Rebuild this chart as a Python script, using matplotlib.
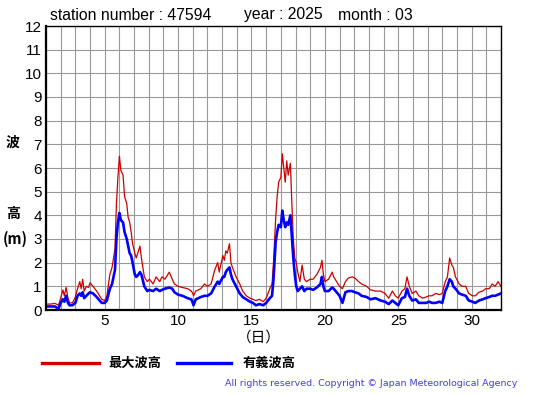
import matplotlib
matplotlib.use("Agg")
import matplotlib.pyplot as plt
from matplotlib.lines import Line2D

plt.rcParams['font.family'] = ['Liberation Sans', 'Noto Sans CJK JP', 'DejaVu Sans']

# day of month (fractional) and wave heights in metres
days = [1.0, 1.3, 1.6, 1.85, 2.0, 2.15, 2.25, 2.37, 2.5, 2.6, 2.8,
        3.0, 3.15, 3.3, 3.4, 3.5, 3.6, 3.75, 3.9, 4.0, 4.2, 4.45, 4.65, 4.8,
        5.0, 5.15, 5.35, 5.5, 5.6, 5.7, 5.8, 5.9, 6.0, 6.1, 6.25, 6.35, 6.5,
        6.6, 6.7, 6.8, 6.9, 7.05, 7.15, 7.3, 7.4, 7.5, 7.7, 7.9, 8.05, 8.3,
        8.5, 8.75, 8.9, 9.1, 9.4, 9.6, 9.75, 10.0, 10.3, 10.65, 10.9, 11.0,
        11.05, 11.2, 11.55, 11.8, 12.0, 12.25, 12.5, 12.7, 12.8, 13.05, 13.15,
        13.25, 13.35, 13.5, 13.6, 13.7, 13.95, 14.2, 14.4, 14.65, 14.9, 15.1,
        15.3, 15.55, 15.8, 16.0, 16.25, 16.4, 16.5, 16.65, 16.75, 16.85, 17.0,
        17.1, 17.2, 17.3, 17.4, 17.5, 17.65, 17.75, 17.85, 17.95, 18.05, 18.15,
        18.3, 18.45, 18.6, 18.75, 19.0, 19.2, 19.45, 19.7, 19.8, 19.9, 20.0,
        20.25, 20.5, 20.6, 20.8, 21.0, 21.2, 21.4, 21.6, 21.85, 22.05, 22.3,
        22.5, 22.85, 23.1, 23.45, 23.8, 24.1, 24.35, 24.6, 24.8, 25.0, 25.25,
        25.45, 25.6, 25.75, 25.95, 26.2, 26.4, 26.65, 26.9, 27.1, 27.3, 27.55,
        27.8, 28.0, 28.2, 28.35, 28.5, 28.65, 28.75, 28.9, 29.15, 29.35, 29.6,
        29.8, 30.05, 30.25, 30.5, 30.75, 30.95, 31.2, 31.4, 31.6, 31.8, 32.0]

max_wave = [0.25, 0.25, 0.28, 0.2, 0.5, 0.85, 0.6, 0.95, 0.5, 0.3, 0.3,
            0.55, 0.9, 1.2, 0.9, 1.3, 0.8, 1.0, 0.95, 1.15, 1.0, 0.8, 0.6, 0.45,
            0.4, 0.6, 1.5, 1.8, 2.2, 2.6, 4.5, 5.6, 6.5, 5.9, 5.7, 4.8, 4.5,
            3.9, 3.7, 3.3, 2.8, 2.4, 2.2, 2.5, 2.7, 2.2, 1.4, 1.2, 1.3, 1.1,
            1.4, 1.2, 1.4, 1.3, 1.6, 1.3, 1.1, 1.0, 0.95, 0.9, 0.8, 0.7,
            0.6, 0.8, 0.9, 1.1, 1.0, 1.1, 1.7, 2.0, 1.6, 2.3, 2.1,
            2.5, 2.4, 2.8, 2.0, 1.8, 1.4, 1.1, 0.8, 0.6, 0.5, 0.45,
            0.4, 0.45, 0.35, 0.5, 0.9, 1.1, 2.0, 3.9, 4.8, 5.4, 5.6,
            6.6, 6.0, 5.4, 6.3, 5.7, 6.2, 4.5, 3.0, 2.2, 2.0, 1.6,
            1.2, 1.9, 1.3, 1.2, 1.3, 1.3, 1.5, 1.8, 2.1, 1.5, 1.2,
            1.3, 1.6, 1.4, 1.2, 1.0, 0.9, 1.2, 1.35, 1.4, 1.35, 1.2,
            1.1, 1.0, 0.85, 0.8, 0.8, 0.7, 0.5, 0.8, 0.6, 0.5, 0.8,
            0.9, 1.4, 1.0, 0.7, 0.8, 0.6, 0.5, 0.55, 0.6, 0.6, 0.7,
            0.65, 0.7, 1.2, 1.4, 2.2, 1.9, 1.8, 1.4, 1.1, 1.0, 1.0,
            0.7, 0.6, 0.6, 0.75, 0.8, 0.9, 0.9, 1.1, 1.0, 1.2, 1.0]

sig_wave = [0.15, 0.15, 0.15, 0.05, 0.3, 0.45, 0.35, 0.6, 0.3, 0.2, 0.2,
            0.3, 0.6, 0.7, 0.6, 0.75, 0.5, 0.6, 0.7, 0.75, 0.7, 0.55, 0.4, 0.3,
            0.3, 0.4, 0.9, 1.1, 1.4, 1.7, 3.0, 3.7, 4.1, 3.8, 3.7, 3.3, 3.0,
            2.7, 2.4, 2.3, 2.0, 1.5, 1.4, 1.5, 1.6, 1.5, 1.0, 0.8, 0.85, 0.8,
            0.9, 0.8, 0.85, 0.9, 0.95, 0.9, 0.75, 0.65, 0.6, 0.5, 0.45, 0.3,
            0.2, 0.45, 0.55, 0.6, 0.6, 0.7, 1.0, 1.2, 1.1, 1.4, 1.4,
            1.6, 1.7, 1.8, 1.5, 1.3, 1.0, 0.7, 0.55, 0.45, 0.35, 0.3,
            0.2, 0.25, 0.2, 0.3, 0.5, 0.6, 1.3, 2.9, 3.3, 3.6, 3.5,
            4.2, 3.8, 3.5, 3.7, 3.6, 4.0, 3.1, 2.2, 1.5, 1.0, 0.8,
            0.9, 1.0, 0.8, 0.9, 0.9, 0.85, 0.95, 1.1, 1.4, 1.0, 0.8,
            0.8, 0.95, 0.9, 0.75, 0.6, 0.3, 0.75, 0.8, 0.8, 0.75, 0.7,
            0.6, 0.55, 0.45, 0.5, 0.4, 0.35, 0.25, 0.4, 0.3, 0.2, 0.5,
            0.55, 0.9, 0.6, 0.4, 0.45, 0.3, 0.3, 0.3, 0.35, 0.3, 0.3,
            0.35, 0.3, 0.8, 1.0, 1.3, 1.2, 1.0, 0.9, 0.7, 0.65, 0.6,
            0.4, 0.35, 0.3, 0.4, 0.45, 0.5, 0.55, 0.6, 0.6, 0.65, 0.7]

day_ticks = [5, 10, 15, 20, 25, 30]
height_ticks = list(range(0, 13))

W, H = 555, 395
fig = plt.figure(figsize=(W / 100, H / 100), dpi=100)
ax = fig.add_axes([46 / W, 1 - 310 / H, 455 / W, 284 / H])

ax.plot(days, max_wave, color="#cc0000", lw=0.9)
ax.plot(days, sig_wave, color="#0000ff", lw=1.9)

ax.set_xlim(1, 32)
ax.set_ylim(0, 12)
ax.set_xticks(range(1, 33), minor=True)
ax.set_xticks(day_ticks)
ax.set_yticks(height_ticks)
ax.grid(True, which="both", color="#999999", lw=0.8)
ax.tick_params(which="both", length=0, labelsize=11, pad=3)
for s in ax.spines.values():
    s.set_color("black")
    s.set_linewidth(1.0)
ax.spines["left"].set_linewidth(1.6)
ax.spines["bottom"].set_linewidth(1.6)

fig.text(50 / W, 1 - 15 / H, "station number : 47594", fontsize=11.3, va="center")
fig.text(244 / W, 1 - 15 / H, "year : 2025", fontsize=11.3, va="center")
fig.text(338 / W, 1 - 15 / H, "month : 03", fontsize=11.3, va="center")

cjk = ['Noto Sans CJK JP', 'DejaVu Sans']
fig.text(13 / W, 1 - 143 / H, "波", fontsize=10, family=cjk, weight="bold", ha="center", va="center")
fig.text(13 / W, 1 - 214 / H, "高", fontsize=10, family=cjk, weight="bold", ha="center", va="center")
fig.text(3 / W, 1 - 239 / H, "(m)", fontsize=10.5, family=cjk, weight="bold", ha="left", va="center")
fig.text(259 / W, 1 - 338 / H, "（日）", fontsize=10.5, family=cjk, ha="center", va="center")

fig.add_artist(Line2D([42 / W, 99 / W], [1 - 363 / H] * 2, color="#cc0000", lw=2.4))
fig.add_artist(Line2D([177 / W, 231 / W], [1 - 363 / H] * 2, color="#0000ff", lw=2.4))
fig.text(108 / W, 1 - 363 / H, "最大波高", fontsize=9.5, family=cjk, weight="bold", va="center")
fig.text(243 / W, 1 - 363 / H, "有義波高", fontsize=9.5, family=cjk, weight="bold", va="center")

fig.text(517 / W, 1 - 384 / H, "All rights reserved. Copyright © Japan Meteorological Agency",
         fontsize=6.8, color="#4040dd", family="DejaVu Sans", ha="right", va="center")

fig.savefig("out.png", dpi=100)
